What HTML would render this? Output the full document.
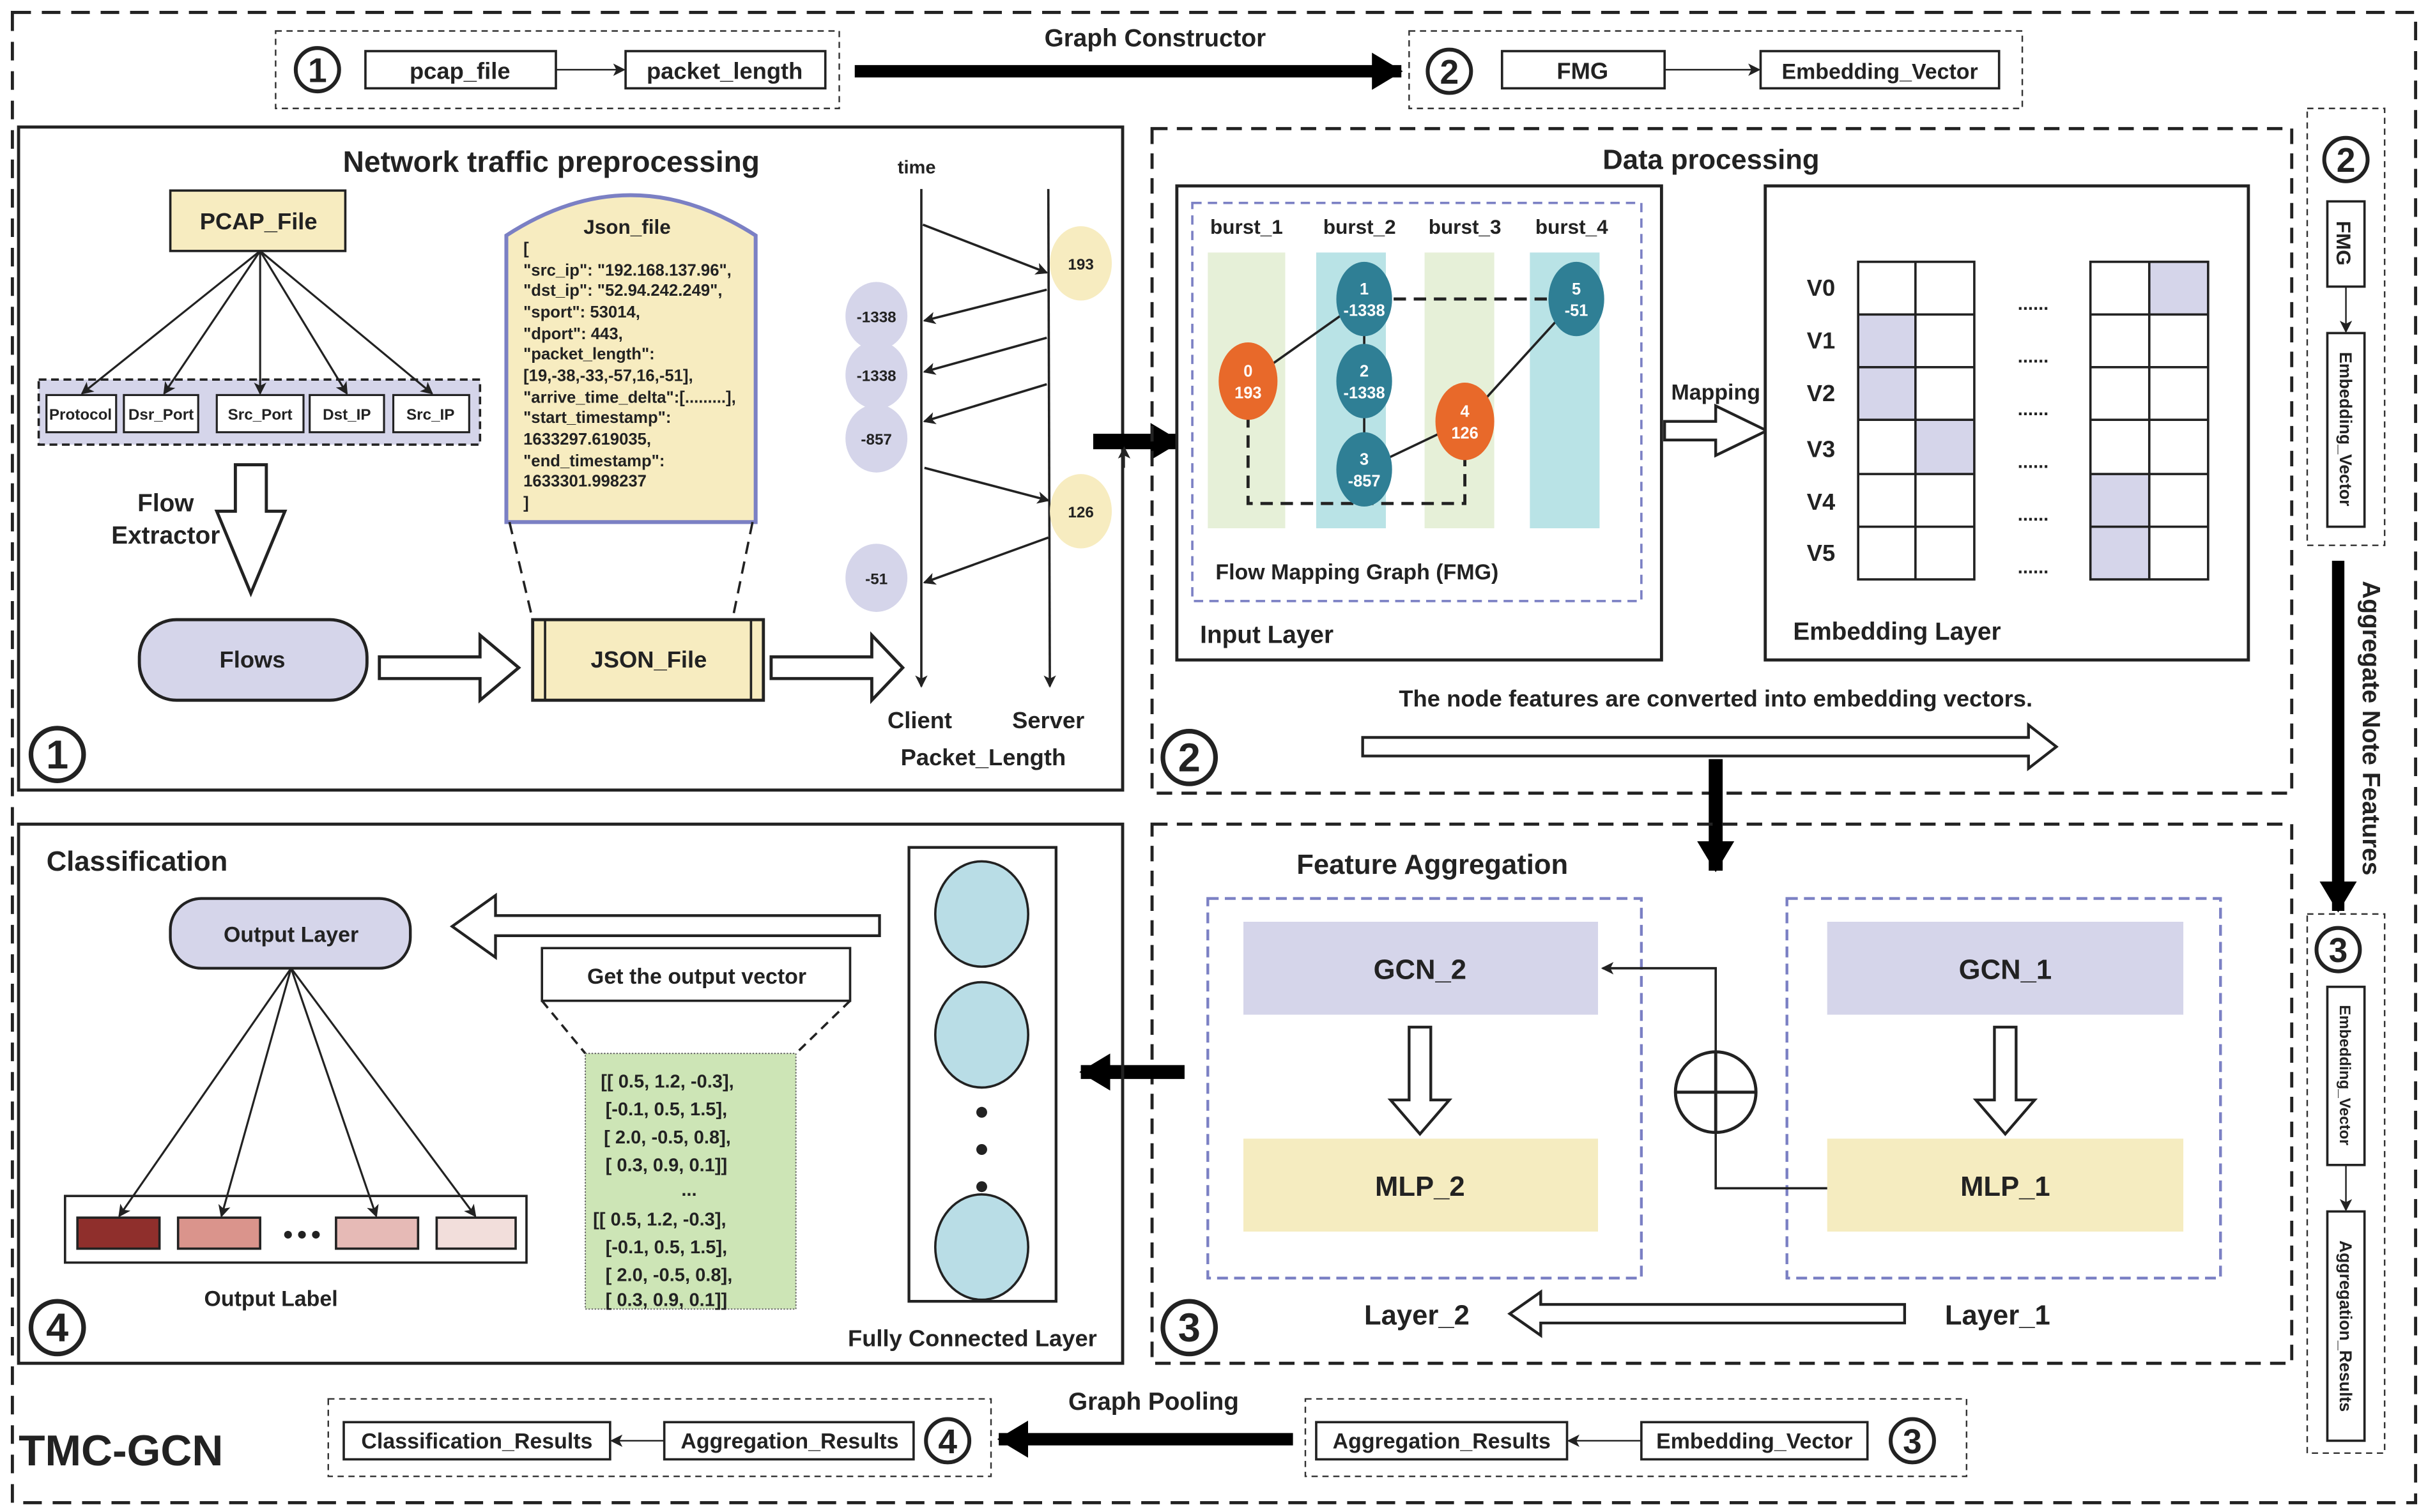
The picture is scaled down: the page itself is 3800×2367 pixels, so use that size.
<!DOCTYPE html>
<html><head><meta charset="utf-8"><style>
html,body{margin:0;padding:0;background:#fff}
svg{display:block}
text{font-family:"Liberation Sans",sans-serif;font-weight:bold;fill:#222}
</style></head><body>
<svg width="3800" height="2367" viewBox="0 0 1568 976" preserveAspectRatio="none" xmlns="http://www.w3.org/2000/svg">
<defs>
<marker id="a" markerWidth="8" markerHeight="8" refX="7" refY="4" orient="auto" markerUnits="userSpaceOnUse"><path d="M0,0 L8,4 L0,8 L2,4 Z" fill="#222"/></marker>
<marker id="ab" markerWidth="20" markerHeight="24" refX="19" refY="12" orient="auto" markerUnits="userSpaceOnUse"><path d="M0,0 L20,12 L0,24 Z" fill="#000"/></marker>
</defs>
<rect width="1568" height="976" fill="#fff"/>
<rect x="8" y="8" width="1552" height="962" fill="none" stroke="#222" stroke-width="2" stroke-dasharray="12,7"/>

<rect x="178" y="20" width="364" height="50" fill="none" stroke="#333" stroke-width="1" stroke-dasharray="4,3"/>
<circle cx="205" cy="45" r="14" fill="#fff" stroke="#222" stroke-width="2.5"/><text x="205" y="53" font-size="22" text-anchor="middle">1</text>
<rect x="236" y="33" width="123" height="24" fill="#fff" stroke="#222" stroke-width="1.5"/><text x="297" y="51" font-size="15" text-anchor="middle">pcap_file</text>
<line x1="359" y1="45" x2="403" y2="45" stroke="#222" stroke-width="1" marker-end="url(#a)"/>
<rect x="404" y="33" width="129" height="24" fill="#fff" stroke="#222" stroke-width="1.5"/><text x="468" y="51" font-size="15" text-anchor="middle">packet_length</text>
<line x1="552" y1="46" x2="905" y2="46" stroke="#000" stroke-width="8" marker-end="url(#ab)"/>
<text x="746" y="30" font-size="16" text-anchor="middle">Graph Constructor</text>
<rect x="910" y="20" width="396" height="50" fill="none" stroke="#333" stroke-width="1" stroke-dasharray="4,3"/>
<circle cx="936" cy="46" r="14" fill="#fff" stroke="#222" stroke-width="2.5"/><text x="936" y="54" font-size="22" text-anchor="middle">2</text>
<rect x="970" y="33" width="105" height="24" fill="#fff" stroke="#222" stroke-width="1.5"/><text x="1022" y="51" font-size="15" text-anchor="middle">FMG</text>
<line x1="1075" y1="45" x2="1136" y2="45" stroke="#222" stroke-width="1" marker-end="url(#a)"/>
<rect x="1137" y="33" width="154" height="24" fill="#fff" stroke="#222" stroke-width="1.5"/><text x="1214" y="51" font-size="14" text-anchor="middle">Embedding_Vector</text>

<rect x="12" y="82" width="713" height="428" fill="none" stroke="#222" stroke-width="2"/>
<text x="356" y="111" font-size="19" text-anchor="middle">Network traffic preprocessing</text>
<rect x="110" y="123" width="113" height="39" fill="#f7ecc0" stroke="#222" stroke-width="1.5"/><text x="167" y="148" font-size="15" text-anchor="middle">PCAP_File</text>
<rect x="25" y="245" width="285" height="42" fill="#d5d5ea" stroke="#222" stroke-width="1.5" stroke-dasharray="5,3"/>
<g stroke="#222" stroke-width="1.3" marker-end="url(#a)">
<line x1="168" y1="162" x2="53" y2="254"/><line x1="168" y1="162" x2="106" y2="254"/><line x1="168" y1="162" x2="168" y2="254"/><line x1="168" y1="162" x2="224" y2="254"/><line x1="168" y1="162" x2="279" y2="254"/>
</g>
<g fill="#fff" stroke="#222" stroke-width="1.3">
<rect x="30" y="255" width="45" height="24"/><rect x="80" y="255" width="48" height="24"/><rect x="140" y="255" width="56" height="24"/><rect x="200" y="255" width="48" height="24"/><rect x="254" y="255" width="49" height="24"/></g>
<g font-size="10" text-anchor="middle"><text x="52" y="271">Protocol</text><text x="104" y="271">Dsr_Port</text><text x="168" y="271">Src_Port</text><text x="224" y="271">Dst_IP</text><text x="278" y="271">Src_IP</text></g>
<text x="107" y="330" font-size="16" text-anchor="middle">Flow</text><text x="107" y="351" font-size="16" text-anchor="middle">Extractor</text>
<path d="M152,300 L172,300 L172,330 L184,330 L162,383 L140,330 L152,330 Z" fill="#fff" stroke="#222" stroke-width="2"/>
<rect x="90" y="400" width="147" height="52" rx="24" fill="#d5d5ea" stroke="#222" stroke-width="2"/><text x="163" y="431" font-size="15" text-anchor="middle">Flows</text>
<path d="M245,424 L310,424 L310,410 L335,431 L310,452 L310,438 L245,438 Z" fill="#fff" stroke="#222" stroke-width="2"/>
<rect x="344" y="400" width="149" height="52" fill="#f7ecc0" stroke="#222" stroke-width="2"/>
<line x1="352" y1="400" x2="352" y2="452" stroke="#222" stroke-width="1.5"/><line x1="485" y1="400" x2="485" y2="452" stroke="#222" stroke-width="1.5"/>
<text x="419" y="431" font-size="15" text-anchor="middle">JSON_File</text>
<path d="M498,424 L563,424 L563,410 L583,431 L563,452 L563,438 L498,438 Z" fill="#fff" stroke="#222" stroke-width="2"/>
<path d="M327,337 L327,152 Q407,100 488,152 L488,337 Z" fill="#f7ecc0" stroke="#7b80c4" stroke-width="2.5"/>
<line x1="329" y1="337" x2="344" y2="400" stroke="#222" stroke-width="1.5" stroke-dasharray="8,5"/>
<line x1="486" y1="337" x2="473" y2="400" stroke="#222" stroke-width="1.5" stroke-dasharray="8,5"/>
<text x="405" y="151" font-size="13" text-anchor="middle">Json_file</text>
<g font-size="10.6"><text x="338" y="164">[</text><text x="338" y="178">"src_ip": "192.168.137.96",</text><text x="338" y="191">"dst_ip": "52.94.242.249",</text><text x="338" y="205">"sport": 53014,</text><text x="338" y="219">"dport": 443,</text><text x="338" y="232">"packet_length":</text><text x="338" y="246">[19,-38,-33,-57,16,-51],</text><text x="338" y="260">"arrive_time_delta":[.........],</text><text x="338" y="273">"start_timestamp":</text><text x="338" y="287">1633297.619035,</text><text x="338" y="301">"end_timestamp":</text><text x="338" y="314">1633301.998237</text><text x="338" y="328">]</text></g>
<text x="592" y="112" font-size="12" text-anchor="middle">time</text>
<line x1="595" y1="122" x2="595" y2="443" stroke="#222" stroke-width="1.5" marker-end="url(#a)"/>
<line x1="677" y1="122" x2="678" y2="443" stroke="#222" stroke-width="1.5" marker-end="url(#a)"/>
<g stroke="#222" stroke-width="1.5" marker-end="url(#a)">
<line x1="596" y1="145" x2="676" y2="176"/><line x1="676" y1="187" x2="597" y2="207"/><line x1="676" y1="218" x2="597" y2="240"/><line x1="676" y1="248" x2="597" y2="272"/><line x1="597" y1="302" x2="677" y2="323"/><line x1="677" y1="347" x2="597" y2="376"/></g>
<ellipse cx="698" cy="170" rx="20" ry="24" fill="#f7ecc0"/><text x="698" y="174" font-size="10" text-anchor="middle">193</text>
<ellipse cx="698" cy="330" rx="20" ry="24" fill="#f7ecc0"/><text x="698" y="334" font-size="10" text-anchor="middle">126</text>
<g fill="#d5d5ea"><ellipse cx="566" cy="204" rx="20" ry="22"/><ellipse cx="566" cy="242" rx="20" ry="22"/><ellipse cx="566" cy="283" rx="20" ry="22"/><ellipse cx="566" cy="373" rx="20" ry="22"/></g>
<g font-size="10" text-anchor="middle" font-weight="normal"><text x="566" y="208">-1338</text><text x="566" y="246">-1338</text><text x="566" y="287">-857</text><text x="566" y="377">-51</text></g>
<text x="594" y="470" font-size="15" text-anchor="middle">Client</text><text x="677" y="470" font-size="15" text-anchor="middle">Server</text>
<text x="635" y="494" font-size="15" text-anchor="middle">Packet_Length</text>
<circle cx="37" cy="487" r="17" fill="#fff" stroke="#222" stroke-width="3"/><text x="37" y="496" font-size="26" text-anchor="middle">1</text>

<line x1="706" y1="285" x2="762" y2="285" stroke="#000" stroke-width="10" marker-end="url(#ab)"/>
<line x1="726" y1="302" x2="726" y2="289" stroke="#222" stroke-width="1" marker-end="url(#a)"/>

<rect x="744" y="83" width="736" height="429" fill="none" stroke="#222" stroke-width="2" stroke-dasharray="10,6"/>
<text x="1105" y="109" font-size="18" text-anchor="middle">Data processing</text>
<rect x="760" y="120" width="313" height="306" fill="#fff" stroke="#222" stroke-width="2"/>
<rect x="770" y="131" width="290" height="257" fill="none" stroke="#7b80c4" stroke-width="1.5" stroke-dasharray="6,4"/>
<rect x="780" y="163" width="50" height="178" fill="#e6f0d8"/><rect x="850" y="163" width="45" height="178" fill="#b9e3e6"/><rect x="920" y="163" width="45" height="178" fill="#e6f0d8"/><rect x="988" y="163" width="45" height="178" fill="#b9e3e6"/>
<g font-size="13" text-anchor="middle"><text x="805" y="151">burst_1</text><text x="878" y="151">burst_2</text><text x="946" y="151">burst_3</text><text x="1015" y="151">burst_4</text></g>
<path d="M806,268 L806,325 L946,325 L946,295" fill="none" stroke="#222" stroke-width="2" stroke-dasharray="8,5"/>
<line x1="900" y1="193" x2="1000" y2="193" stroke="#222" stroke-width="2" stroke-dasharray="8,5"/>
<g stroke="#222" stroke-width="1.5"><line x1="806" y1="246" x2="881" y2="193"/><line x1="881" y1="193" x2="881" y2="303"/><line x1="881" y1="303" x2="946" y2="272"/><line x1="946" y1="272" x2="1018" y2="193"/></g>
<g fill="#e8692a"><ellipse cx="806" cy="246" rx="19" ry="25"/><ellipse cx="946" cy="272" rx="19" ry="25"/></g>
<g fill="#2f7f95"><ellipse cx="881" cy="193" rx="18" ry="24"/><ellipse cx="881" cy="246" rx="18" ry="24"/><ellipse cx="881" cy="303" rx="18" ry="24"/><ellipse cx="1018" cy="193" rx="18" ry="24"/></g>
<g font-size="10.5" text-anchor="middle">
<text x="806" y="243" style="fill:#fff">0</text><text x="806" y="257" style="fill:#fff">193</text>
<text x="881" y="190" style="fill:#fff">1</text><text x="881" y="204" style="fill:#fff">-1338</text>
<text x="881" y="243" style="fill:#fff">2</text><text x="881" y="257" style="fill:#fff">-1338</text>
<text x="881" y="300" style="fill:#fff">3</text><text x="881" y="314" style="fill:#fff">-857</text>
<text x="946" y="269" style="fill:#fff">4</text><text x="946" y="283" style="fill:#fff">126</text>
<text x="1018" y="190" style="fill:#fff">5</text><text x="1018" y="204" style="fill:#fff">-51</text></g>
<text x="785" y="374" font-size="14">Flow Mapping Graph (FMG)</text>
<text x="775" y="415" font-size="16">Input Layer</text>
<path d="M1075,272 L1108,272 L1108,262 L1141,278 L1108,294 L1108,284 L1075,284 Z" fill="#fff" stroke="#222" stroke-width="1.8"/>
<text x="1108" y="258" font-size="14" text-anchor="middle">Mapping</text>
<rect x="1140" y="120" width="312" height="306" fill="#fff" stroke="#222" stroke-width="2"/>
<g font-size="15" text-anchor="middle"><text x="1176" y="191">V0</text><text x="1176" y="225">V1</text><text x="1176" y="259">V2</text><text x="1176" y="295">V3</text><text x="1176" y="329">V4</text><text x="1176" y="362">V5</text></g>
<g fill="#d5d5ea"><rect x="1388" y="169" width="38" height="34"/><rect x="1200" y="203" width="37" height="34"/><rect x="1200" y="237" width="37" height="34"/><rect x="1237" y="271" width="38" height="35"/><rect x="1350" y="306" width="38" height="34"/><rect x="1350" y="340" width="38" height="34"/></g>
<g fill="none" stroke="#222" stroke-width="1.5">
<rect x="1200" y="169" width="75" height="205"/><line x1="1237" y1="169" x2="1237" y2="374"/>
<rect x="1350" y="169" width="76" height="205"/><line x1="1388" y1="169" x2="1388" y2="374"/>
<path d="M1200,203 H1275 M1200,237 H1275 M1200,271 H1275 M1200,306 H1275 M1200,340 H1275 M1350,203 H1426 M1350,237 H1426 M1350,271 H1426 M1350,306 H1426 M1350,340 H1426"/></g>
<g font-size="12" text-anchor="middle"><text x="1313" y="200">......</text><text x="1313" y="234">......</text><text x="1313" y="268">......</text><text x="1313" y="302">......</text><text x="1313" y="336">......</text><text x="1313" y="370">......</text></g>
<text x="1158" y="413" font-size="16">Embedding Layer</text>
<text x="1108" y="456" font-size="15" text-anchor="middle">The node features are converted into embedding vectors.</text>
<path d="M880,476 L1310,476 L1310,468 L1328,482 L1310,496 L1310,488 L880,488 Z" fill="#fff" stroke="#222" stroke-width="1.8"/>
<circle cx="768" cy="489" r="17" fill="#fff" stroke="#222" stroke-width="3"/><text x="768" y="498" font-size="26" text-anchor="middle">2</text>
<line x1="1108" y1="490" x2="1108" y2="562" stroke="#000" stroke-width="9" marker-end="url(#ab)"/>

<rect x="744" y="532" width="736" height="348" fill="none" stroke="#222" stroke-width="2" stroke-dasharray="10,6"/>
<text x="925" y="564" font-size="18" text-anchor="middle">Feature Aggregation</text>
<rect x="780" y="580" width="280" height="245" fill="none" stroke="#7b80c4" stroke-width="1.8" stroke-dasharray="7,4"/>
<rect x="1154" y="580" width="280" height="245" fill="none" stroke="#7b80c4" stroke-width="1.8" stroke-dasharray="7,4"/>
<rect x="803" y="595" width="229" height="60" fill="#d5d5ea"/><text x="917" y="632" font-size="18" text-anchor="middle">GCN_2</text>
<rect x="803" y="735" width="229" height="60" fill="#f5ecc0"/><text x="917" y="772" font-size="18" text-anchor="middle">MLP_2</text>
<rect x="1180" y="595" width="230" height="60" fill="#d5d5ea"/><text x="1295" y="632" font-size="18" text-anchor="middle">GCN_1</text>
<rect x="1180" y="735" width="230" height="60" fill="#f5ecc0"/><text x="1295" y="772" font-size="18" text-anchor="middle">MLP_1</text>
<path d="M910,663 L924,663 L924,710 L936,710 L917,732 L898,710 L910,710 Z" fill="#fff" stroke="#222" stroke-width="1.8"/>
<path d="M1288,663 L1302,663 L1302,710 L1314,710 L1295,732 L1276,710 L1288,710 Z" fill="#fff" stroke="#222" stroke-width="1.8"/>
<circle cx="1108" cy="705" r="26" fill="#fff" stroke="#222" stroke-width="2"/>
<path d="M1082,705 H1134 M1108,679 V731" stroke="#222" stroke-width="2"/>
<path d="M1180,767 L1108,767 L1108,731" fill="none" stroke="#222" stroke-width="1.5"/>
<path d="M1108,679 L1108,625 L1035,625" fill="none" stroke="#222" stroke-width="1.5" marker-end="url(#a)"/>
<text x="915" y="855" font-size="18" text-anchor="middle">Layer_2</text><text x="1290" y="855" font-size="18" text-anchor="middle">Layer_1</text>
<path d="M1230,842 L995,842 L995,834 L975,848 L995,862 L995,854 L1230,854 Z" fill="#fff" stroke="#222" stroke-width="1.8"/>
<circle cx="768" cy="857" r="17" fill="#fff" stroke="#222" stroke-width="3"/><text x="768" y="866" font-size="26" text-anchor="middle">3</text>
<line x1="765" y1="692" x2="698" y2="692" stroke="#000" stroke-width="9" marker-end="url(#ab)"/>

<rect x="12" y="532" width="713" height="348" fill="none" stroke="#222" stroke-width="2"/>
<text x="30" y="562" font-size="18">Classification</text>
<rect x="110" y="580" width="155" height="45" rx="20" fill="#d5d5ea" stroke="#222" stroke-width="1.8"/><text x="188" y="608" font-size="14" text-anchor="middle">Output Layer</text>
<path d="M568,591 L320,591 L320,578 L292,598 L320,618 L320,604 L568,604 Z" fill="#fff" stroke="#222" stroke-width="1.8"/>
<rect x="350" y="612" width="199" height="34" fill="#fff" stroke="#222" stroke-width="1.5"/><text x="450" y="635" font-size="14" text-anchor="middle">Get the output vector</text>
<line x1="350" y1="646" x2="378" y2="680" stroke="#222" stroke-width="1.5" stroke-dasharray="6,4"/><line x1="549" y1="646" x2="514" y2="680" stroke="#222" stroke-width="1.5" stroke-dasharray="6,4"/>
<rect x="378" y="680" width="136" height="165" fill="#cde5b6" stroke="#666" stroke-width="0.8" stroke-dasharray="1,1"/>
<g font-size="12"><text x="388" y="702">[[ 0.5,  1.2, -0.3],</text><text x="391" y="720">[-0.1,  0.5,  1.5],</text><text x="390" y="738">[ 2.0, -0.5,  0.8],</text><text x="391" y="756">[ 0.3,  0.9,  0.1]]</text><text x="440" y="772">...</text><text x="383" y="791">[[ 0.5,  1.2, -0.3],</text><text x="391" y="809">[-0.1,  0.5,  1.5],</text><text x="391" y="827">[ 2.0, -0.5,  0.8],</text><text x="391" y="843">[ 0.3,  0.9,  0.1]]</text></g>
<rect x="587" y="547" width="95" height="293" fill="#fff" stroke="#222" stroke-width="1.8"/>
<g fill="#b9dde6" stroke="#222" stroke-width="1.5"><ellipse cx="634" cy="590" rx="30" ry="34"/><ellipse cx="634" cy="668" rx="30" ry="34"/><ellipse cx="634" cy="805" rx="30" ry="34"/></g>
<g fill="#222"><circle cx="634" cy="718" r="3.5"/><circle cx="634" cy="742" r="3.5"/><circle cx="634" cy="766" r="3.5"/></g>
<text x="628" y="869" font-size="15" text-anchor="middle">Fully Connected Layer</text>
<rect x="42" y="772" width="298" height="43" fill="#fff" stroke="#222" stroke-width="1.5"/>
<g stroke="#222" stroke-width="1.5"><rect x="50" y="786" width="53" height="20" fill="#8f2f2c"/><rect x="115" y="786" width="53" height="20" fill="#da948c"/><rect x="217" y="786" width="53" height="20" fill="#e6bab6"/><rect x="282" y="786" width="51" height="20" fill="#f2dedb"/></g>
<g fill="#222"><circle cx="186" cy="797" r="2.5"/><circle cx="195" cy="797" r="2.5"/><circle cx="204" cy="797" r="2.5"/></g>
<g stroke="#222" stroke-width="1.3" marker-end="url(#a)"><line x1="188" y1="625" x2="77" y2="785"/><line x1="188" y1="625" x2="143" y2="785"/><line x1="188" y1="625" x2="243" y2="785"/><line x1="188" y1="625" x2="307" y2="785"/></g>
<text x="175" y="843" font-size="14" text-anchor="middle">Output Label</text>
<circle cx="37" cy="857" r="17" fill="#fff" stroke="#222" stroke-width="3"/><text x="37" y="866" font-size="26" text-anchor="middle">4</text>

<rect x="1490" y="70" width="50" height="282" fill="none" stroke="#333" stroke-width="1" stroke-dasharray="4,3"/>
<circle cx="1515" cy="103" r="14" fill="#fff" stroke="#222" stroke-width="2.5"/><text x="1515" y="111" font-size="22" text-anchor="middle">2</text>
<rect x="1503" y="130" width="24" height="55" fill="#fff" stroke="#222" stroke-width="1.5"/><text transform="translate(1509,157) rotate(90)" font-size="13" text-anchor="middle">FMG</text>
<line x1="1515" y1="185" x2="1515" y2="214" stroke="#222" stroke-width="1" marker-end="url(#a)"/>
<rect x="1503" y="215" width="24" height="125" fill="#fff" stroke="#222" stroke-width="1.5"/><text transform="translate(1511,277) rotate(90)" font-size="11" text-anchor="middle">Embedding_Vector</text>
<line x1="1510" y1="362" x2="1510" y2="588" stroke="#000" stroke-width="8" marker-end="url(#ab)"/>
<text transform="translate(1526,470) rotate(90)" font-size="16" text-anchor="middle">Aggregate Note Features</text>
<rect x="1490" y="590" width="50" height="348" fill="none" stroke="#333" stroke-width="1" stroke-dasharray="4,3"/>
<circle cx="1510" cy="613" r="14" fill="#fff" stroke="#222" stroke-width="2.5"/><text x="1510" y="621" font-size="22" text-anchor="middle">3</text>
<rect x="1503" y="637" width="24" height="115" fill="#fff" stroke="#222" stroke-width="1.5"/><text transform="translate(1511,694) rotate(90)" font-size="10" text-anchor="middle">Embedding_Vector</text>
<line x1="1515" y1="752" x2="1515" y2="781" stroke="#222" stroke-width="1" marker-end="url(#a)"/>
<rect x="1503" y="782" width="24" height="148" fill="#fff" stroke="#222" stroke-width="1.5"/><text transform="translate(1511,856) rotate(90)" font-size="11" text-anchor="middle">Aggregation_Results</text>

<text x="12" y="946" font-size="28">TMC-GCN</text>
<rect x="212" y="903" width="428" height="50" fill="none" stroke="#333" stroke-width="1" stroke-dasharray="4,3"/>
<rect x="222" y="918" width="172" height="24" fill="#fff" stroke="#222" stroke-width="1.5"/><text x="308" y="935" font-size="14" text-anchor="middle">Classification_Results</text>
<line x1="429" y1="930" x2="395" y2="930" stroke="#222" stroke-width="1" marker-end="url(#a)"/>
<rect x="429" y="918" width="161" height="24" fill="#fff" stroke="#222" stroke-width="1.5"/><text x="510" y="935" font-size="14" text-anchor="middle">Aggregation_Results</text>
<circle cx="612" cy="930" r="14" fill="#fff" stroke="#222" stroke-width="2.5"/><text x="612" y="938" font-size="22" text-anchor="middle">4</text>
<line x1="835" y1="929" x2="645" y2="929" stroke="#000" stroke-width="8" marker-end="url(#ab)"/>
<text x="745" y="910" font-size="16" text-anchor="middle">Graph Pooling</text>
<rect x="843" y="903" width="427" height="50" fill="none" stroke="#333" stroke-width="1" stroke-dasharray="4,3"/>
<rect x="850" y="918" width="162" height="24" fill="#fff" stroke="#222" stroke-width="1.5"/><text x="931" y="935" font-size="14" text-anchor="middle">Aggregation_Results</text>
<line x1="1060" y1="930" x2="1013" y2="930" stroke="#222" stroke-width="1" marker-end="url(#a)"/>
<rect x="1060" y="918" width="146" height="24" fill="#fff" stroke="#222" stroke-width="1.5"/><text x="1133" y="935" font-size="14" text-anchor="middle">Embedding_Vector</text>
<circle cx="1235" cy="930" r="14" fill="#fff" stroke="#222" stroke-width="2.5"/><text x="1235" y="938" font-size="22" text-anchor="middle">3</text>
</svg>
</body></html>
